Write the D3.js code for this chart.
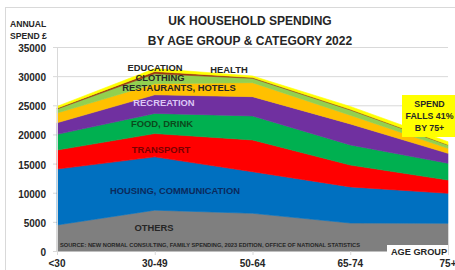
<!DOCTYPE html>
<html><head><meta charset="utf-8">
<script src="https://cdnjs.cloudflare.com/ajax/libs/d3/7.8.5/d3.min.js"></script>
<style>
html,body{margin:0;padding:0;background:#fff;}
svg{display:block;font-family:"Liberation Sans",Arial,sans-serif;font-weight:bold;}
</style></head>
<body>
<svg id="chart" width="455" height="270"></svg>
<script>
// ---- data ----
const ageGroups = ["<30", "30-49", "50-64", "65-74", "75+"];
const others      = [4460, 7000, 6470, 4800, 4750];
const housing     = [9600, 9150, 7130, 6200, 5150];
const transport   = [3260, 4000, 5450, 3750, 2280];
const food        = [2690, 3450, 4120, 3450, 2870];
const recreation  = [1990, 3200, 3310, 3600, 1710];
const restaurants = [1670, 1900, 2400, 1500, 860];
const clothing    = [690, 1700, 750, 900, 570];
const education   = [150, 400, 150, 100, 60];
const health      = [300, 500, 250, 500, 500];
const seriesNames = ["OTHERS", "HOUSING, COMMUNICATION", "TRANSPORT", "FOOD, DRINK", "RECREATION",
                     "RESTAURANTS, HOTELS", "CLOTHING", "EDUCATION", "HEALTH"];
const seriesValues = [others, housing, transport, food, recreation, restaurants, clothing, education, health];
const yTicks = [0, 5000, 10000, 15000, 20000, 25000, 30000, 35000];

// ---- styling ----
const colors = ["#7f7f7f", "#0070c0", "#ff0000", "#00b050", "#7030a0", "#ffc000", "#92d050", "#9c3a12", "#ffff00"];
const labelCfg = [
  {x:154, y:228, fill:"#262626"},
  {x:175, y:191, fill:"#0b2a5c"},
  {x:161, y:150, fill:"#7a0000"},
  {x:162, y:124, fill:"#0b4a1c"},
  {x:164, y:102.5, fill:"#dcc6f5"},
  {x:179, y:87.5, fill:"#262626"},
  {x:160, y:77.6, fill:"#262626"},
  {x:155, y:68, fill:"#262626"},
  {x:229, y:69.5, fill:"#262626"}
];

const svg = d3.select("#chart");
const x0 = 57, x1 = 448, yTop = 47, yBot = 251;

// frame
svg.append("rect").attr("x", 5.5).attr("y", 7.5).attr("width", 460).attr("height", 270)
  .attr("fill", "none").attr("stroke", "#d9d9d9");

const x = d3.scalePoint().domain(ageGroups).range([x0, x1]);
const y = d3.scaleLinear().domain([0, 35000]).range([yBot, yTop]);

// gridlines
svg.append("g").selectAll("line").data(yTicks).join("line")
  .attr("x1", x0 - 4).attr("x2", x1).attr("y1", d => y(d) + 0.5).attr("y2", d => y(d) + 0.5)
  .attr("stroke", "#d9d9d9").attr("stroke-width", 1);

// stacked data
const table = ageGroups.map((g, i) => {
  const row = {group: g};
  seriesNames.forEach((s, k) => row[s] = seriesValues[k][i]);
  return row;
});
const stacked = d3.stack().keys(seriesNames)(table);
const area = d3.area()
  .x(d => x(d.data.group))
  .y0(d => y(d[0]))
  .y1(d => y(d[1]));

svg.append("g").selectAll("path").data(stacked).join("path")
  .attr("d", area)
  .attr("fill", (d, i) => colors[i])
  .attr("stroke", (d, i) => colors[i]).attr("stroke-width", 0.6);

// y axis line and x ticks
svg.append("line").attr("x1", x0 + 0.5).attr("x2", x0 + 0.5).attr("y1", yTop).attr("y2", yBot)
  .attr("stroke", "#d9d9d9");
svg.append("g").selectAll("line").data(ageGroups).join("line")
  .attr("x1", d => x(d) + 0.5).attr("x2", d => x(d) + 0.5).attr("y1", yBot).attr("y2", yBot + 4)
  .attr("stroke", "#d9d9d9");

// y tick labels
svg.append("g").selectAll("text").data(yTicks).join("text")
  .attr("x", 46).attr("y", d => y(d) + 1.5).attr("dy", "0.35em")
  .attr("text-anchor", "end").attr("font-size", 10).attr("fill", "#262626")
  .text(d => d);

// x tick labels
svg.append("g").selectAll("text").data(ageGroups).join("text")
  .attr("x", d => x(d)).attr("y", 263.5).attr("dy", "0.35em")
  .attr("text-anchor", "middle").attr("font-size", 10).attr("fill", "#262626")
  .text(d => d);

// series labels
svg.append("g").selectAll("text").data(seriesNames).join("text")
  .attr("x", (d, i) => labelCfg[i].x).attr("y", (d, i) => labelCfg[i].y).attr("dy", "0.35em")
  .attr("text-anchor", "middle").attr("font-size", 9.4)
  .attr("fill", (d, i) => labelCfg[i].fill)
  .text(d => d);

// source
svg.append("text").attr("x", 60).attr("y", 245.5).attr("dy", "0.35em")
  .attr("font-size", 5.2).attr("fill", "#262626")
  .attr("textLength", 300).attr("lengthAdjust", "spacingAndGlyphs")
  .text("SOURCE: NEW NORMAL CONSULTING, FAMILY SPENDING, 2023 EDITION, OFFICE OF NATIONAL STATISTICS");

// age group box
svg.append("rect").attr("x", 387).attr("y", 245).attr("width", 61).attr("height", 13).attr("fill", "#fff");
svg.append("text").attr("x", 419).attr("y", 252).attr("dy", "0.35em").attr("text-anchor", "middle")
  .attr("font-size", 9.2).attr("fill", "#262626").text("AGE GROUP");

// spend falls box
svg.append("rect").attr("x", 402).attr("y", 95).attr("width", 60).attr("height", 42).attr("fill", "#ffff00");
const boxLines = ["SPEND", "FALLS 41%", "BY 75+"];
svg.append("g").selectAll("text").data(boxLines).join("text")
  .attr("x", 429.5).attr("y", (d, i) => 103.5 + i * 12.2).attr("dy", "0.35em")
  .attr("text-anchor", "middle").attr("font-size", 8.8).attr("fill", "#262626").text(d => d);

// title
const titleLines = ["UK HOUSEHOLD SPENDING", "BY AGE GROUP & CATEGORY 2022"];
svg.append("g").selectAll("text").data(titleLines).join("text")
  .attr("x", 250).attr("y", (d, i) => 21 + i * 20).attr("dy", "0.35em")
  .attr("text-anchor", "middle").attr("font-size", 12).attr("fill", "#262626").text(d => d);

// y axis title
const yTitle = ["ANNUAL", "SPEND £"];
svg.append("g").selectAll("text").data(yTitle).join("text")
  .attr("x", 10).attr("y", (d, i) => 23.7 + i * 12.5).attr("dy", "0.35em")
  .attr("font-size", 8.6).attr("fill", "#262626").text(d => d);
</script>
</body></html>
